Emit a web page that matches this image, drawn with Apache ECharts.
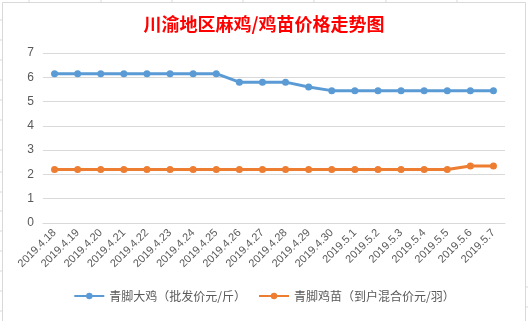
<!DOCTYPE html>
<html><head><meta charset="utf-8">
<script src="https://cdn.jsdelivr.net/npm/echarts@6/dist/echarts.min.js"></script>
<style>html,body{margin:0;padding:0;background:#fff}#c{width:528px;height:321px}</style>
</head><body><div id="c"></div>
<script>
const categories = ["2019.4.18","2019.4.19","2019.4.20","2019.4.21","2019.4.22","2019.4.23","2019.4.24","2019.4.25","2019.4.26","2019.4.27","2019.4.28","2019.4.29","2019.4.30","2019.5.1","2019.5.2","2019.5.3","2019.5.4","2019.5.5","2019.5.6","2019.5.7"];
const adultChicken = [6.15,6.15,6.15,6.15,6.15,6.15,6.15,6.15,5.8,5.8,5.8,5.6,5.45,5.45,5.45,5.45,5.45,5.45,5.45,5.45];
const chickSeedling = [2.2,2.2,2.2,2.2,2.2,2.2,2.2,2.2,2.2,2.2,2.2,2.2,2.2,2.2,2.2,2.2,2.2,2.2,2.35,2.35];
const seriesNames = ["青脚大鸡（批发价元/斤）","青脚鸡苗（到户混合价元/羽）"];
const titleText = "川渝地区麻鸡/鸡苗价格走势图";

const chart = echarts.init(document.getElementById('c'), null, {renderer:'canvas'});
const grey = '#d9d9d9';
const cellTicks = [];
[29,101,172,243,314,386,457].forEach(x=>cellTicks.push({type:'line',shape:{x1:x,y1:0,x2:x,y2:2},style:{stroke:grey,lineWidth:1}}));
[20,40,60,80,100,120,150,172,192,211,231,251,271,291,311].forEach(y=>cellTicks.push({type:'line',shape:{x1:0,y1:y,x2:2,y2:y},style:{stroke:grey,lineWidth:1}}));
[287,307].forEach(y=>cellTicks.push({type:'line',shape:{x1:525,y1:y,x2:528,y2:y},style:{stroke:grey,lineWidth:1}}));
chart.setOption({
  backgroundColor:'#fff',
  animation:false,
  title:{text:titleText,left:'center',top:10,textStyle:{color:'#ff0000',fontSize:18,fontWeight:'bold',fontFamily:'Noto Sans CJK SC'}},
  legend:{bottom:14,left:'center',itemWidth:30,itemHeight:8,itemGap:12,
    textStyle:{color:'#595959',fontSize:12,fontFamily:'Noto Sans CJK SC'},data:seriesNames},
  grid:{left:43,right:23,top:53,bottom:98,containLabel:false},
  xAxis:{type:'category',data:categories,boundaryGap:true,
    axisLine:{show:true,lineStyle:{color:grey}},axisTick:{show:false},
    axisLabel:{rotate:45,color:'#595959',fontSize:11,fontFamily:'Liberation Sans',margin:8,interval:0}},
  yAxis:{type:'value',min:0,max:7,interval:1,
    axisLine:{show:false},axisTick:{show:false},
    splitLine:{lineStyle:{color:grey,width:1}},
    axisLabel:{color:'#595959',fontSize:12,fontFamily:'Liberation Sans',margin:9}},
  series:[
    {name:seriesNames[0],type:'line',data:adultChicken,symbol:'circle',symbolSize:7,
     lineStyle:{color:'#5b9bd5',width:3},itemStyle:{color:'#5b9bd5'}},
    {name:seriesNames[1],type:'line',data:chickSeedling,symbol:'circle',symbolSize:7,
     lineStyle:{color:'#ed7d31',width:3},itemStyle:{color:'#ed7d31'}}
  ],
  graphic:[
    {type:'polyline',shape:{points:[[2.5,321],[2.5,2.5],[525.5,2.5],[525.5,321]]},style:{stroke:grey,fill:null,lineWidth:1},silent:true}
  ].concat(cellTicks)
});
</script></body></html>
